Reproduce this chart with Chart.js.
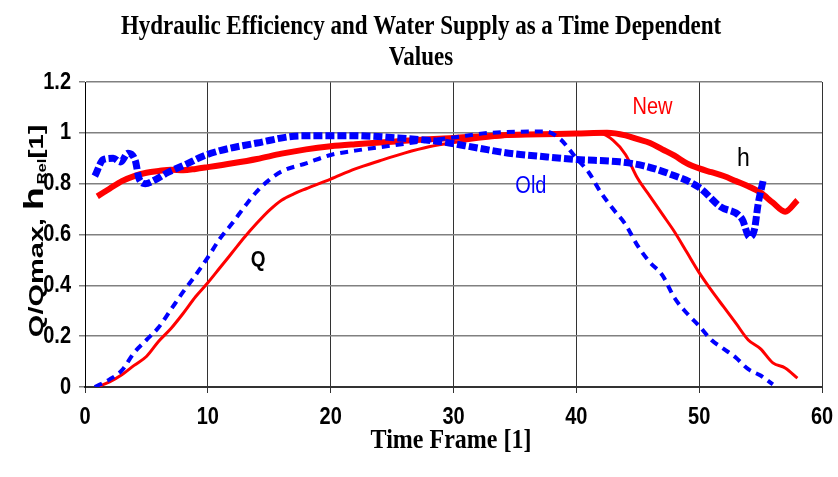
<!DOCTYPE html>
<html>
<head>
<meta charset="utf-8">
<script src="https://cdn.jsdelivr.net/npm/chart.js@4"></script>
<style>
  html, body { margin: 0; padding: 0; background: #fff; }
  canvas { display: block; }
</style>
</head>
<body>
<canvas id="myChart" width="838" height="477"></canvas>
<script>
// time frames and relative values
const hNewT = [1, 2, 3, 4, 5, 6, 7, 8, 9, 10, 12, 14, 16, 18, 20, 22, 25, 28, 30, 33, 36, 40, 42.5, 44, 45, 46, 47, 48, 49, 50, 51, 52, 53, 54, 55, 56, 57, 58];
const hNewV = [0.75, 0.78, 0.81, 0.83, 0.843, 0.85, 0.855, 0.853, 0.858, 0.865, 0.88, 0.897, 0.918, 0.935, 0.947, 0.955, 0.965, 0.975, 0.98, 0.988, 0.993, 0.997, 1.0, 0.99, 0.975, 0.96, 0.935, 0.91, 0.88, 0.86, 0.845, 0.83, 0.81, 0.79, 0.765, 0.725, 0.69, 0.735];

const hOldT = [0.8, 1.5, 2.3, 2.9, 3.5, 4.1, 4.4, 4.9, 5.7, 6.7, 8.3, 9.6, 11, 14, 17.5, 21.5, 25.5, 29, 32, 34.5, 37, 40, 43.5, 45.5, 47.5, 50, 51.7, 53.5, 54.1, 54.5, 54.8, 55.2];
const hOldV = [0.83, 0.895, 0.9, 0.885, 0.92, 0.89, 0.82, 0.8, 0.815, 0.843, 0.878, 0.908, 0.93, 0.96, 0.988, 0.989, 0.98, 0.965, 0.94, 0.92, 0.908, 0.895, 0.886, 0.87, 0.84, 0.785, 0.71, 0.66, 0.59, 0.62, 0.72, 0.81];

const qNewT = [1, 2, 3, 4, 5, 6, 7, 8, 9, 10, 11, 12, 13, 14, 15, 16, 17, 18, 20, 22, 24, 26, 28, 30, 32, 34, 36, 38, 40, 42, 43, 44, 45, 46, 47, 48, 49, 50, 51, 52, 53, 54, 55, 56, 57, 58];
const qNewV = [0, 0.02, 0.048, 0.085, 0.12, 0.18, 0.23, 0.29, 0.355, 0.41, 0.47, 0.53, 0.59, 0.645, 0.695, 0.735, 0.76, 0.78, 0.818, 0.858, 0.89, 0.92, 0.945, 0.962, 0.975, 0.985, 0.99, 0.993, 0.997, 0.997, 0.97, 0.915, 0.82, 0.75, 0.68, 0.61, 0.53, 0.45, 0.38, 0.315, 0.25, 0.185, 0.15, 0.095, 0.075, 0.035];

const qOldT = [0.8, 2, 3, 4, 5, 6, 7, 8, 9, 10, 11, 12, 13, 14, 15, 16, 18, 20, 22, 25, 28, 30, 33, 37.5, 38.7, 40, 41, 42, 43, 44, 45, 46, 47, 48, 49, 50, 51, 52, 53, 54, 55, 56];
const qOldV = [0, 0.03, 0.065, 0.135, 0.185, 0.235, 0.305, 0.375, 0.44, 0.51, 0.585, 0.645, 0.71, 0.77, 0.815, 0.848, 0.88, 0.913, 0.93, 0.95, 0.97, 0.982, 1.0, 1.005, 0.975, 0.9, 0.845, 0.765, 0.7, 0.64, 0.555, 0.49, 0.44, 0.35, 0.29, 0.24, 0.185, 0.15, 0.115, 0.07, 0.045, 0.01];

const xTicks = [0, 10, 20, 30, 40, 50, 60];
const xTickLabels = ["0", "10", "20", "30", "40", "50", "60"];
const yTicks = [0, 0.2, 0.4, 0.6, 0.8, 1, 1.2];
const yTickLabels = ["0", "0.2", "0.4", "0.6", "0.8", "1", "1.2"];

const pts = (t, v) => t.map((x, i) => ({ x: x, y: v[i] }));

const sans = "'Liberation Sans', Arial, sans-serif";
const serif = "'Liberation Serif', 'Times New Roman', serif";

// the original picture is a bit stretched in height, so its text is too
function tallText(c, text, x, y, sy) {
  c.save();
  c.translate(x, y);
  c.scale(1, sy);
  c.fillText(text, 0, 0);
  c.restore();
}

// titles, tick labels and the text labels inside the plot
const textPlugin = {
  id: "texts",
  afterDraw(chart) {
    const c = chart.ctx;
    const xs = chart.scales.x;
    const ys = chart.scales.y;
    c.save();
    c.fillStyle = "#000";
    c.textBaseline = "middle";

    c.font = "bold 20px " + sans;
    c.textAlign = "center";
    xTicks.forEach((v, i) => tallText(c, xTickLabels[i], xs.getPixelForValue(v), 417, 1.2));
    c.textAlign = "right";
    yTicks.forEach((v, i) => tallText(c, yTickLabels[i], 71, ys.getPixelForValue(v), 1.2));

    c.textAlign = "center";
    c.font = "bold 23px " + serif;
    tallText(c, "Hydraulic Efficiency and Water Supply as a Time Dependent", 421, 27, 1.2);
    tallText(c, "Values", 421, 58, 1.2);
    c.font = "bold 24px " + serif;
    tallText(c, "Time Frame [1]", 451, 441, 1.15);

    c.font = "20px " + sans;
    c.fillStyle = "#ff0000";
    tallText(c, "New", xs.getPixelForValue(46.2), ys.getPixelForValue(1.1), 1.15);
    c.fillStyle = "#0000ff";
    tallText(c, "Old", xs.getPixelForValue(36.3), ys.getPixelForValue(0.79), 1.15);
    c.fillStyle = "#000";
    c.font = "bold 19px " + sans;
    tallText(c, "Q", xs.getPixelForValue(14.1), ys.getPixelForValue(0.5), 1.15);
    c.font = "23px " + sans;
    tallText(c, "h", xs.getPixelForValue(53.6), ys.getPixelForValue(0.9), 1.15);

    // rotated y title: Q/Qmax, h Rel[1]
    c.translate(35, 231);
    c.rotate(-Math.PI / 2);
    c.scale(1.38, 1);
    c.textAlign = "left";
    c.textBaseline = "alphabetic";
    const parts = [
      ["bold 21px " + sans, "Q/Qmax, ", 0, 0],
      ["bold 27px " + sans, "h", 0, 2],
      ["bold 12px " + sans, "Rel", 3, 0],
      ["bold 20px " + sans, "[1]", 0, 0],
    ];
    let w = 0;
    parts.forEach((p) => { c.font = p[0]; w += c.measureText(p[1]).width + p[3]; });
    let x = -w / 2;
    parts.forEach((p) => {
      c.font = p[0];
      c.fillText(p[1], x, 8 + p[2]);
      x += c.measureText(p[1]).width + p[3];
    });
    c.restore();
  },
};

const ctx = document.getElementById("myChart");
// eslint-disable-next-line no-unused-vars
const myChart = new Chart(ctx, {
  type: "line",
  data: {
    datasets: [
      {
        label: "Q old",
        data: pts(qOldT, qOldV),
        borderColor: "#0000ff",
        borderWidth: 4,
        borderDash: [8, 6],
      },
      {
        label: "h old",
        data: pts(hOldT, hOldV),
        borderColor: "#0000ff",
        borderWidth: 7,
        borderDash: [9, 3],
      },
      {
        label: "Q new",
        data: pts(qNewT, qNewV),
        borderColor: "#ff0000",
        borderWidth: 3,
      },
      {
        label: "h new",
        data: pts(hNewT, hNewV),
        borderColor: "#ff0000",
        borderWidth: 6,
      },
    ],
  },
  options: {
    responsive: false,
    animation: false,
    devicePixelRatio: 1,
    parsing: false,
    elements: {
      point: { radius: 0 },
      line: { cubicInterpolationMode: "monotone", fill: false },
    },
    layout: { padding: { left: 0, top: 82, right: 16, bottom: 0 } },
    plugins: {
      legend: { display: false },
      tooltip: { enabled: false },
    },
    scales: {
      x: {
        type: "linear",
        min: 0,
        max: 60,
        afterFit: (s) => {
          s.height = 90;
          s.paddingLeft = 0;
          s.paddingRight = 0;
        },
        border: { color: "#333", width: 2 },
        grid: { color: "#333", lineWidth: 1, tickLength: 6 },
        ticks: { stepSize: 10, display: false },
      },
      y: {
        min: 0,
        max: 1.2,
        afterFit: (s) => {
          s.width = 85;
          s.paddingTop = 0;
          s.paddingBottom = 0;
        },
        border: { color: "#000", width: 1 },
        grid: { color: "#808080", lineWidth: 1.5, tickLength: 6 },
        ticks: { stepSize: 0.2, display: false },
      },
    },
  },
  plugins: [textPlugin],
});
</script>
</body>
</html>
